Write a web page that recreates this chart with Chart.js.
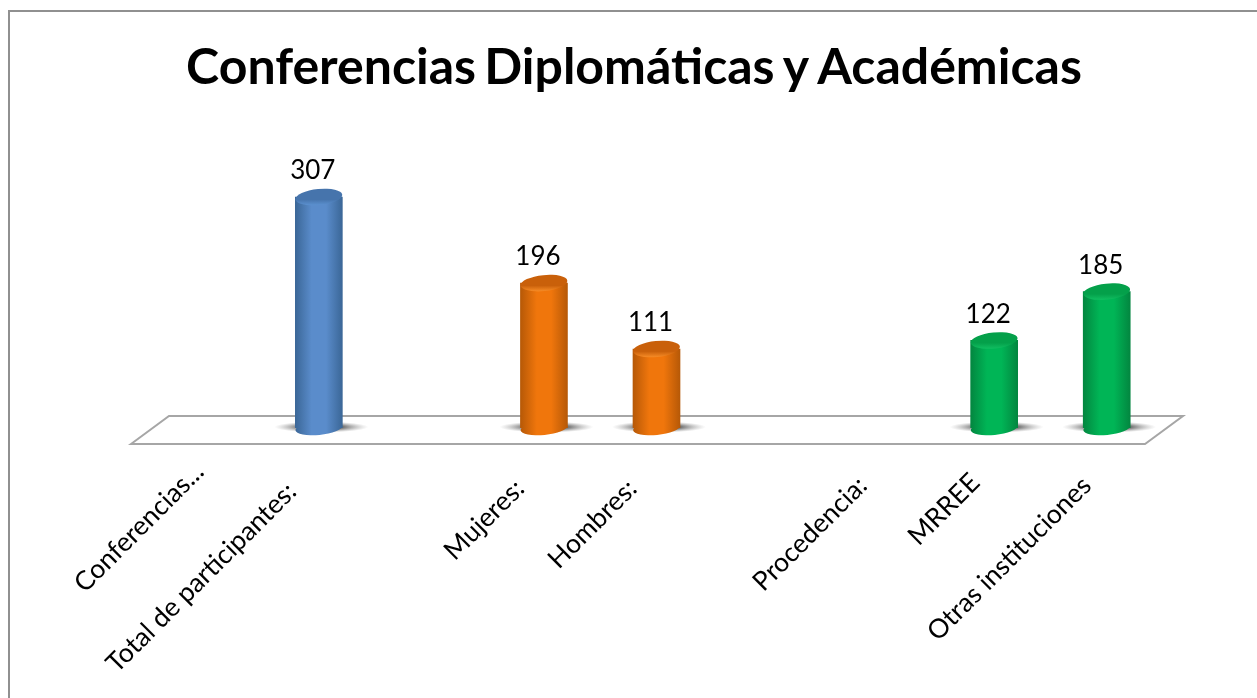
<!DOCTYPE html>
<html>
<head>
<meta charset="utf-8">
<title>Conferencias Diplomáticas y Académicas</title>
<script src="https://cdn.jsdelivr.net/npm/chart.js@4/dist/chart.umd.min.js"></script>
<style>
    html, body { margin: 0; padding: 0; background: #fff; overflow: hidden; }
    #frame { position: absolute; left: 8px; top: 10px; width: 1300px; height: 800px; border: 2px solid #909090; box-sizing: border-box; }
    #wrap { position: absolute; left: 0; top: 0; width: 1257px; height: 698px; }
</style>
</head>
<body>
<div id="frame"></div>
<div id="wrap"><canvas id="myChart"></canvas></div>
<script>
const categories = ["Conferencias...", "Total de participantes:", "", "Mujeres:", "Hombres:", "", "Procedencia:", "MRREE", "Otras instituciones"];
const values = [null, 307, null, 196, 111, null, null, 122, 185];
const barGroups = [null, "blue", null, "orange", "orange", null, null, "green", "green"];

const palette = {
    blue: { edge: "#3a6696", mid: "#5a8ccb", cap: "#4674ac", capLight: "#5b90cf" },
    orange: { edge: "#b55807", mid: "#f0760c", cap: "#c9600a", capLight: "#f58a25" },
    green: { edge: "#03853f", mid: "#00b556", cap: "#04a04a", capLight: "#10bd60" }
};

// tick labels are not all at the same distance from their tick in the original
const labelShifts = {
    "Conferencias...": [-7, -10],
    "Total de participantes:": [-27, 10],
    "Mujeres:": [-24, 7],
    "Hombres:": [-24, 7],
    "Procedencia:": [-19, 4],
    "MRREE": [-19, 1],
    "Otras instituciones": [-20, 4]
};

const sideGradient = (ctx, cx, colors) => {
    const g = ctx.createLinearGradient(cx - 24, 0, cx + 24, 0);
    g.addColorStop(0, colors.edge);
    g.addColorStop(0.35, colors.mid);
    g.addColorStop(0.65, colors.mid);
    g.addColorStop(1, colors.edge);
    return g;
};

const barGradient = (context) => {
    const group = barGroups[context.dataIndex];
    if (!group) return "transparent";
    const chart = context.chart;
    return sideGradient(chart.ctx, chart.scales.x.getPixelForValue(context.dataIndex), palette[group]);
};

const textPlugin = {
    id: "textTweaks",
    beforeDraw(chart) {
        chart.scales.x.getLabelItems().forEach(item => {
            const shift = labelShifts[item.label];
            if (shift && !item.shifted) {
                item.options.translation[0] += shift[0];
                item.options.translation[1] += shift[1];
                item.shifted = true;
            }
        });
        // narrow word gaps in the title
        const block = chart.titleBlock;
        if (!block.wrapped) {
            const drawTitle = block.draw;
            block.draw = function () {
                chart.ctx.save();
                chart.ctx.wordSpacing = "-4px";
                drawTitle.call(block);
                chart.ctx.restore();
            };
            block.wrapped = true;
        }
    }
};

// the floor and the shadows sit under the bars
const floorPlugin = {
    id: "floor",
    beforeDatasetsDraw(chart) {
        const { ctx, scales } = chart;
        const base = scales.y.bottom;
        const left = scales.x.left, right = scales.x.right;
        ctx.save();
        ctx.beginPath();
        ctx.moveTo(left - 19, base + 16);
        ctx.lineTo(left + 19, base - 12);
        ctx.lineTo(right + 20, base - 12);
        ctx.lineTo(right - 18, base + 16);
        ctx.closePath();
        ctx.fillStyle = "#fff";
        ctx.fill();
        ctx.strokeStyle = "#a6a6a6";
        ctx.lineWidth = 2;
        ctx.stroke();
        chart.getDatasetMeta(0).data.forEach((bar, i) => {
            if (values[i] === null) return;
            ctx.save();
            ctx.translate(bar.x + 2.5, base - 1);
            ctx.scale(1, 0.12);
            const g = ctx.createRadialGradient(0, 0, 22, 0, 0, 47);
            g.addColorStop(0, "rgba(70,70,70,0.75)");
            g.addColorStop(1, "rgba(150,150,150,0)");
            ctx.fillStyle = g;
            ctx.beginPath();
            ctx.arc(0, 0, 47, 0, Math.PI * 2);
            ctx.fill();
            ctx.restore();
        });
        ctx.restore();
    }
};

// rounded ends of the cylinders and the numbers over them
const cylinderPlugin = {
    id: "cylinder",
    afterDatasetsDraw(chart) {
        const { ctx, scales } = chart;
        const base = scales.y.bottom;
        chart.getDatasetMeta(0).data.forEach((bar, i) => {
            if (values[i] === null) return;
            const colors = palette[barGroups[i]];
            ctx.save();
            ctx.fillStyle = sideGradient(ctx, bar.x, colors);
            ctx.beginPath();
            ctx.ellipse(bar.x, base, 23.5, 7, -0.1, 0, Math.PI * 2);
            ctx.fill();
            const top = ctx.createLinearGradient(0, bar.y - 8, 0, bar.y + 8);
            top.addColorStop(0, colors.cap);
            top.addColorStop(0.65, colors.cap);
            top.addColorStop(1, colors.capLight);
            ctx.fillStyle = top;
            ctx.beginPath();
            ctx.ellipse(bar.x, bar.y, 23.5, 8, -0.1, 0, Math.PI * 2);
            ctx.fill();
            ctx.fillStyle = "#000";
            ctx.font = "26px Lato";
            ctx.textAlign = "center";
            ctx.textBaseline = "middle";
            ctx.fillText(String(values[i]), bar.x - 6, bar.y - 26);
            ctx.restore();
        });
    }
};

const chart = new Chart(document.getElementById("myChart"), {
    type: "bar",
    plugins: [textPlugin, floorPlugin, cylinderPlugin],
    data: {
        labels: categories,
        datasets: [{
            data: values,
            backgroundColor: barGradient,
            borderWidth: 0,
            barThickness: 47
        }]
    },
    options: {
        responsive: true,
        maintainAspectRatio: false,
        animation: false,
        layout: { padding: { left: 105, right: 94, top: 0, bottom: 0 } },
        plugins: {
            legend: { display: false },
            tooltip: { enabled: false },
            title: {
                display: true,
                text: "Conferencias Diplomáticas y Académicas",
                color: "#000",
                font: { family: "Lato", size: 50, weight: "bold", lineHeight: 1.2 },
                padding: { top: 38, bottom: 27 }
            }
        },
        scales: {
            x: {
                grid: { display: false },
                border: { display: false },
                afterFit(scale) { scale.height = 270; },
                ticks: {
                    autoSkip: false,
                    minRotation: 45,
                    maxRotation: 45,
                    color: "#000",
                    padding: 30,
                    font: { family: "Lato", size: 26.5 }
                }
            },
            y: {
                min: 9,
                max: 400,
                grid: { display: false },
                border: { display: false },
                ticks: { display: false },
                afterFit(scale) { scale.width = 45; }
            }
        }
    }
});
</script>
</body>
</html>
